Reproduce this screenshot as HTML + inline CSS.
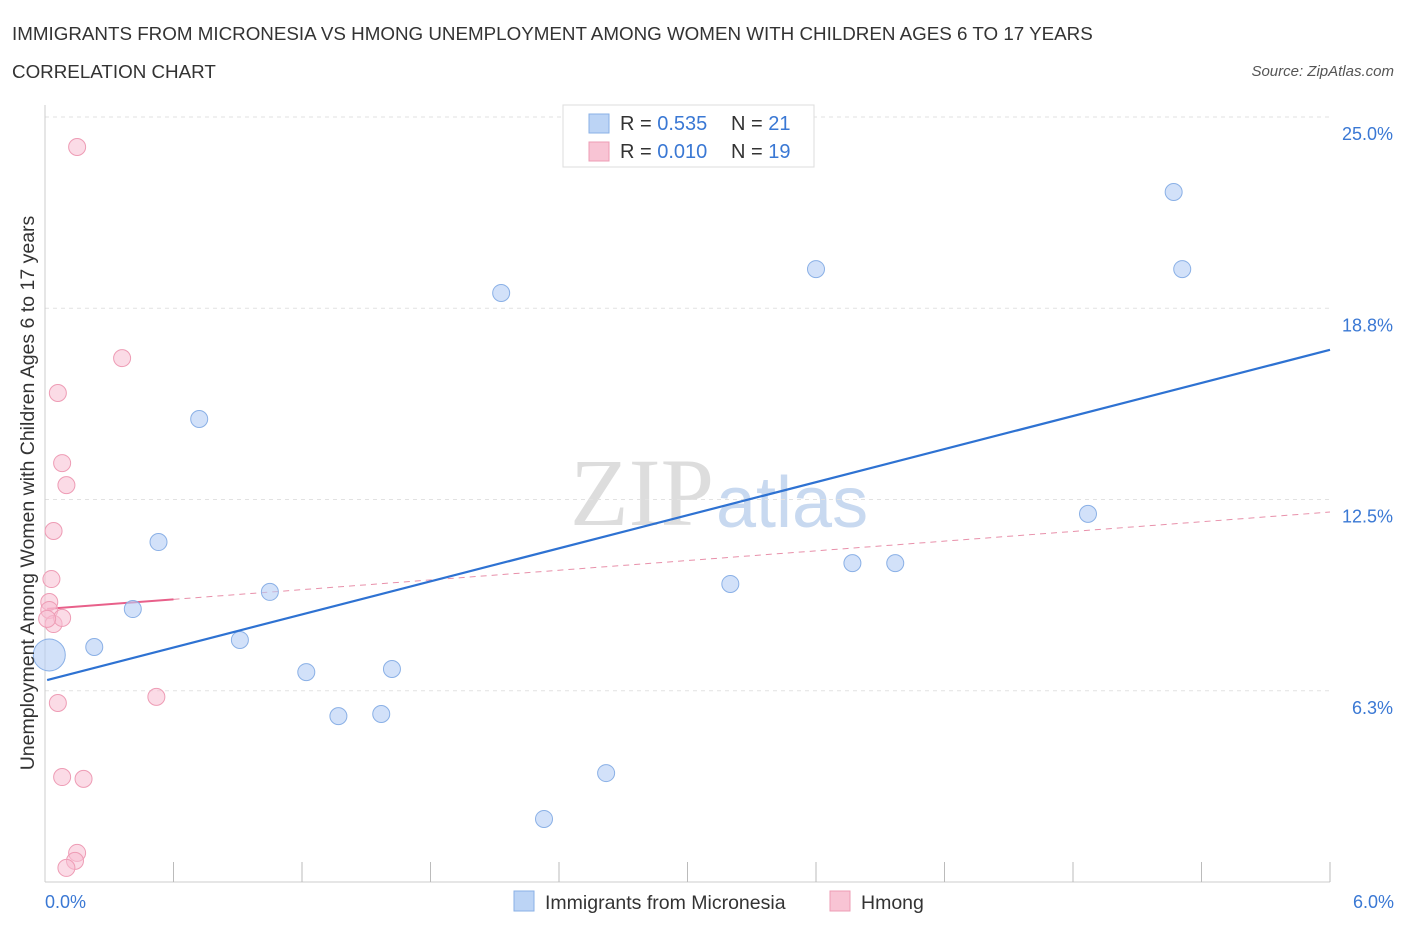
<!DOCTYPE html>
<html><head><meta charset="utf-8"><style>
body{margin:0;background:#fff;font-family:"Liberation Sans",sans-serif;}
</style></head><body>
<svg width="1406" height="930" xmlns="http://www.w3.org/2000/svg" style="font-family:'Liberation Sans',sans-serif">
<text x="12" y="40" font-size="18.8" fill="#333">IMMIGRANTS FROM MICRONESIA VS HMONG UNEMPLOYMENT AMONG WOMEN WITH CHILDREN AGES 6 TO 17 YEARS</text>
<text x="12" y="78" font-size="18.8" fill="#333">CORRELATION CHART</text>
<text x="1394" y="76" font-size="15" fill="#555" font-style="italic" text-anchor="end">Source: ZipAtlas.com</text>
<text x="714" y="525" font-size="96" fill="#ddd" text-anchor="end" font-family="Liberation Serif">ZIP</text>
<text x="716" y="527" font-size="72" fill="#c8d9f0">atlas</text>
<g id="grid"></g><g id="axes"></g><g id="lines"></g><g id="pts"></g>
<text transform="translate(34,493) rotate(-90)" font-size="19.5" fill="#333" text-anchor="middle">Unemployment Among Women with Children Ages 6 to 17 years</text>
<g>
<rect x="563" y="105" width="251" height="62" fill="#fff" stroke="#ddd"/>
<rect x="589" y="114" width="20" height="19" fill="#bcd4f5" stroke="#8ab0e6"/>
<rect x="589" y="142" width="20" height="19" fill="#f8c4d4" stroke="#ee9cb5"/>
<text x="620" y="130" font-size="20" fill="#333">R = <tspan fill="#3a78d4">0.535</tspan></text>
<text x="731" y="130" font-size="20" fill="#333">N = <tspan fill="#3a78d4">21</tspan></text>
<text x="620" y="158" font-size="20" fill="#333">R = <tspan fill="#3a78d4">0.010</tspan></text>
<text x="731" y="158" font-size="20" fill="#333">N = <tspan fill="#3a78d4">19</tspan></text>
</g>
<g>
<rect x="514" y="891" width="20" height="20" fill="#bcd4f5" stroke="#8ab0e6"/>
<text x="545" y="909" font-size="19.5" fill="#333">Immigrants from Micronesia</text>
<rect x="830" y="891" width="20" height="20" fill="#f8c4d4" stroke="#ee9cb5"/>
<text x="861" y="909" font-size="19.5" fill="#333">Hmong</text>
</g>
</svg>
<script>
const yTicks=[25,18.75,12.5,6.25];
const yTickLabels=["25.0%","18.8%","12.5%","6.3%"];
const xTickLabels=["0.0%","6.0%"];
const blueX=[5.27,3.60,5.31,2.13,0.72,0.53,4.87,3.77,3.97,3.20,1.05,0.41,0.91,0.23,0.02,1.22,1.62,1.37,1.57,2.62,2.33];
const blueY=[22.55,20.03,20.03,19.25,15.13,11.11,12.03,10.42,10.42,9.74,9.48,8.92,7.91,7.68,7.42,6.86,6.96,5.42,5.49,3.56,2.06];
const pinkX=[0.15,0.36,0.06,0.08,0.10,0.04,0.03,0.02,0.02,0.04,0.08,0.52,0.06,0.08,0.18,0.15,0.14,0.10,0.01];
const pinkY=[24.02,17.12,15.98,13.69,12.97,11.47,9.90,9.15,8.89,8.43,8.63,6.05,5.85,3.43,3.37,0.95,0.69,0.46,8.6];
const blueTrend=[6.6,17.39];
const pinkTrend=[8.92,12.09];
const X=v=>45+v/6*1285, Y=v=>882-v/25*765;
const NS="http://www.w3.org/2000/svg";
function mk(p,t,a){const e=document.createElementNS(NS,t);for(const k in a)e.setAttribute(k,a[k]);document.getElementById(p).appendChild(e);return e;}
yTicks.forEach((t,i)=>{
 const l=mk('grid','line',{x1:45,x2:1330,y1:Y(t),y2:Y(t),stroke:'#e2e2e2','stroke-dasharray':'4,4'});
 
 
 const tx=mk('grid','text',{x:1393,y:Y(t)+23,'font-size':18,fill:'#3a78d4','text-anchor':'end'});
 tx.textContent=yTickLabels[i];
 
 
});
const ax=mk('axes','line',{x1:45,x2:1330,y1:882,y2:882,stroke:'#ccc'});


const ay=mk('axes','line',{x1:45,x2:45,y1:105,y2:882,stroke:'#ccc'});


for(let i=1;i<=10;i++){const t=mk('axes','line',{x1:X(i*0.6),x2:X(i*0.6),y1:862,y2:882,stroke:'#bbb'});
 
 }
[[0,'start',45],[6,'end',1394]].forEach((d,i)=>{const t=mk('axes','text',{x:d[2],y:908,'font-size':18,fill:'#3a78d4','text-anchor':d[1]});t.textContent=xTickLabels[i];
 
 });
const pv=x=>pinkTrend[0]+(pinkTrend[1]-pinkTrend[0])*x/6;
const pd=mk('lines','line',{x1:X(0.6),y1:Y(pv(0.6)),x2:X(6),y2:Y(pv(6)),stroke:'#e890aa','stroke-width':1,'stroke-dasharray':'6,5'});


const ps=mk('lines','line',{x1:X(0.01),y1:Y(pv(0.01)),x2:X(0.6),y2:Y(pv(0.6)),stroke:'#e8608a','stroke-width':2});


blueX.forEach((x,i)=>{const r=i==14?16:8.5;const c=mk('pts','circle',{cx:X(x),cy:Y(blueY[i]),r:r,fill:'rgba(180,205,245,0.6)',stroke:'#8ab0e6','stroke-width':1});
 
 });
pinkX.forEach((x,i)=>{const c=mk('pts','circle',{cx:X(x),cy:Y(pinkY[i]),r:8.5,fill:'rgba(248,190,210,0.55)',stroke:'#ee9cb5','stroke-width':1});
 
 });
const bl=mk('pts','line',{x1:X(0.01),y1:Y(blueTrend[0]),x2:X(6),y2:Y(blueTrend[1]),stroke:'#2e72d2','stroke-width':2.2});


</script>
</body></html>
